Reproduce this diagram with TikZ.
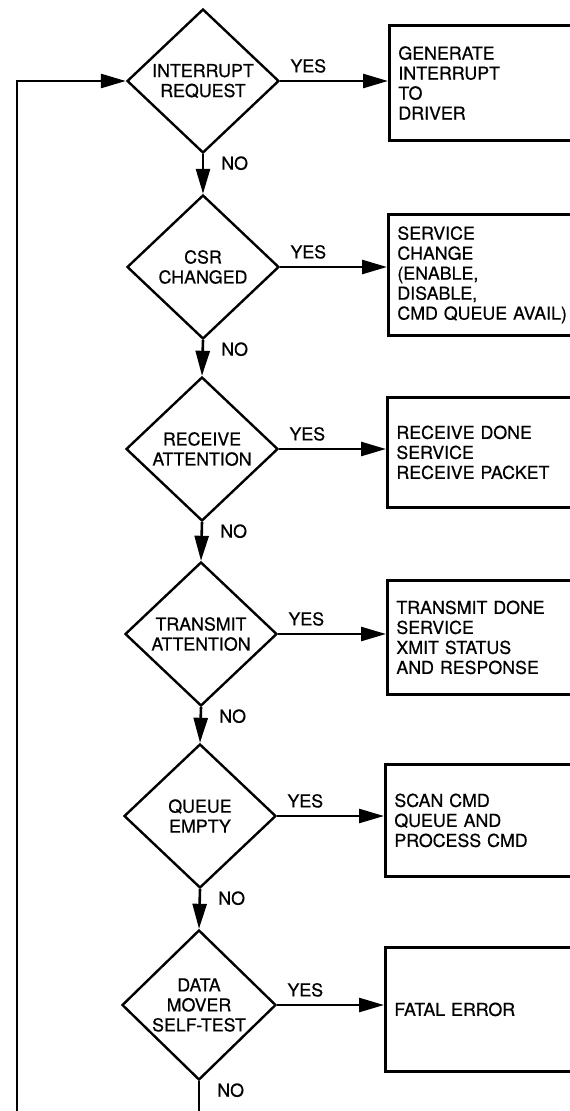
\documentclass[tikz,border=0pt]{standalone}
\usepackage{fontspec}
\setmainfont[FakeBold=0.6]{TeX Gyre Heros}
\usetikzlibrary{shapes.geometric,arrows.meta,calc}
\begin{document}
\begin{tikzpicture}[x=1pt,y=-1pt,
  line width=2.6pt,
  every node/.style={font=\fontsize{17.8}{20}\selectfont},
  decision/.style={draw, diamond, inner sep=0pt, minimum width=152pt,
    minimum height=144pt, align=center, line width=2.4pt},
  action/.style={draw, rectangle, anchor=north west, inner xsep=9pt,
    inner ysep=0pt, text width=240pt, align=left, line width=2.8pt},
  arr/.style={-{Triangle[length=25pt,width=14pt]}},
  lbl/.style={inner sep=0pt},
]
\useasboundingbox (0,0) rectangle (570,1111);
\clip (0,0) rectangle (570,1111);

% decisions down the main column
\node[decision] (d1) at (203,81)   {INTERRUPT\\REQUEST};
\node[decision] (d2) at (203,267)  {CSR\\CHANGED};
\node[decision] (d3) at (202,449)  {RECEIVE\\ATTENTION};
\node[decision] (d4) at (201,634)  {TRANSMIT\\ATTENTION};
\node[decision] (d5) at (200,816)  {QUEUE\\EMPTY};
\node[decision, minimum width=154pt, minimum height=150pt] (d6) at (199,1005)
  {DATA\\MOVER\\SELF-TEST};

% service routines on the right
\node[action, minimum height=115pt] (b1) at (388,24)
  {GENERATE\\INTERRUPT\\TO\\DRIVER};
\node[action, minimum height=121pt] (b2) at (387,213)
  {SERVICE\\CHANGE\\(ENABLE,\\DISABLE,\\CMD QUEUE AVAIL)};
\node[action, minimum height=110pt] (b3) at (386,396)
  {RECEIVE DONE\\SERVICE\\RECEIVE PACKET};
\node[action, minimum height=114pt] (b4) at (386,579)
  {TRANSMIT DONE\\SERVICE\\XMIT STATUS\\AND RESPONSE};
\node[action, minimum height=112pt] (b5) at (384,763)
  {SCAN CMD\\QUEUE AND\\PROCESS CMD};
\node[action, minimum height=124pt] (b6) at (384,946)
  {FATAL ERROR};

% loop ends
\coordinate (exit) at (199,1111);
\coordinate (loop) at (17,1111);

% NO branches
\draw[arr] (d1.south) -- (d2.north);
\draw[arr] (d2.south) -- (d3.north);
\draw[arr] (d3.south) -- (d4.north);
\draw[arr] (d4.south) -- (d5.north);
\draw[arr] (d5.south) -- (d6.north);
\draw (d6.south) -- (exit);
\draw[arr] (loop) |- (d1.west);

% YES branches
\foreach \i in {1,...,6} {
  \draw[arr] (d\i.east) -- (d\i.east -| b\i.west);
  \node[lbl, anchor=south west] (yes\i) at ($(d\i.east)+(9,-7)$) {YES};
  \node[lbl, anchor=west] (no\i) at ($(d\i.south)+(17,9)$) {NO};
}
\end{tikzpicture}
\end{document}
